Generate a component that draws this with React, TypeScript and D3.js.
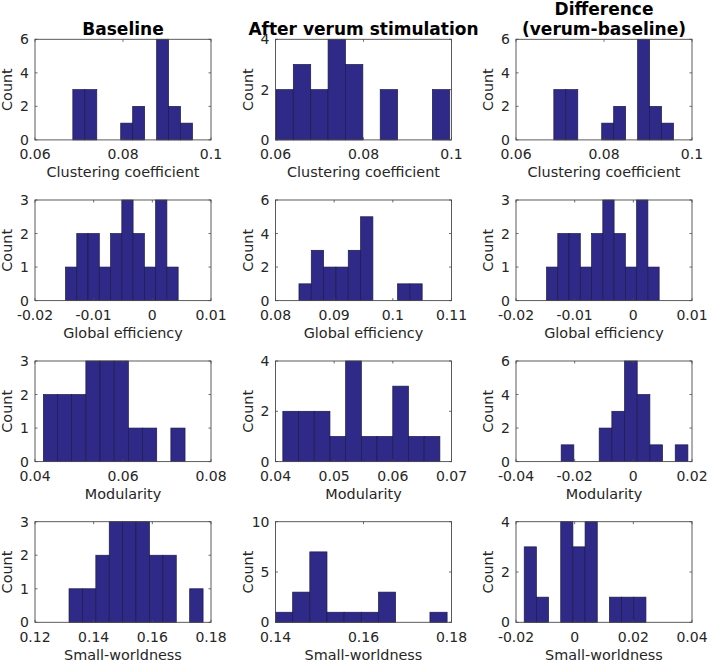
import React from 'react';
import * as d3 from 'd3';

// column titles and row x-labels
const colTitles = [['Baseline'], ['After verum stimulation'], ['Difference', '(verum-baseline)']];
const rowLabels = ['Clustering coefficient', 'Global efficiency', 'Modularity', 'Small-worldness'];

// histogram data: [binLo, binHi] range of the 10 equal bins, and counts per bin
const ccBaseRange = [0.0686, 0.0958];
const ccBaseCounts = [3, 3, 0, 0, 1, 2, 0, 6, 2, 1];
const ccVerumRange = [0.0601, 0.0996];
const ccVerumCounts = [2, 3, 2, 4, 3, 0, 2, 0, 0, 2];
const ccDiffRange = [0.0686, 0.0958];
const ccDiffCounts = [3, 3, 0, 0, 1, 2, 0, 6, 2, 1];

const geBaseRange = [-0.0148, 0.0044];
const geBaseCounts = [1, 2, 2, 1, 2, 3, 2, 1, 3, 1];
const geVerumRange = [0.084, 0.105];
const geVerumCounts = [1, 3, 2, 2, 3, 5, 0, 0, 1, 1];
const geDiffRange = [-0.0148, 0.0044];
const geDiffCounts = [1, 2, 2, 1, 2, 3, 2, 1, 3, 1];

const modBaseRange = [0.0419, 0.0741];
const modBaseCounts = [2, 2, 2, 3, 3, 3, 1, 1, 0, 1];
const modVerumRange = [0.04125, 0.06802];
const modVerumCounts = [2, 2, 2, 1, 4, 1, 1, 3, 1, 1];
const modDiffRange = [-0.0246, 0.0186];
const modDiffCounts = [1, 0, 0, 2, 3, 6, 4, 1, 0, 1];

const swBaseRange = [0.1316, 0.1773];
const swBaseCounts = [1, 1, 2, 3, 3, 3, 2, 2, 0, 1];
const swVerumRange = [0.14, 0.179];
const swVerumCounts = [1, 3, 7, 1, 1, 1, 3, 0, 0, 1];
const swDiffRange = [-0.0172, 0.0243];
const swDiffCounts = [3, 1, 0, 4, 3, 4, 0, 1, 1, 1];

// axis limits and ticks
const ccXTicks = [0.06, 0.08, 0.1];
const geXTicksA = [-0.02, -0.01, 0, 0.01];
const geXTicksB = [0.08, 0.09, 0.1, 0.11];
const modXTicksA = [0.04, 0.06, 0.08];
const modXTicksB = [0.04, 0.05, 0.06, 0.07];
const modXTicksC = [-0.04, -0.02, 0, 0.02];
const swXTicksA = [0.12, 0.14, 0.16, 0.18];
const swXTicksB = [0.14, 0.16, 0.18];
const swXTicksC = [-0.02, 0, 0.02, 0.04];

const panels = [
  [
    { range: ccBaseRange, counts: ccBaseCounts, xTicks: ccXTicks, yTicks: [0, 2, 4, 6] },
    { range: ccVerumRange, counts: ccVerumCounts, xTicks: ccXTicks, yTicks: [0, 2, 4] },
    { range: ccDiffRange, counts: ccDiffCounts, xTicks: ccXTicks, yTicks: [0, 2, 4, 6] },
  ],
  [
    { range: geBaseRange, counts: geBaseCounts, xTicks: geXTicksA, yTicks: [0, 1, 2, 3] },
    { range: geVerumRange, counts: geVerumCounts, xTicks: geXTicksB, yTicks: [0, 2, 4, 6] },
    { range: geDiffRange, counts: geDiffCounts, xTicks: geXTicksA, yTicks: [0, 1, 2, 3] },
  ],
  [
    { range: modBaseRange, counts: modBaseCounts, xTicks: modXTicksA, yTicks: [0, 1, 2, 3] },
    { range: modVerumRange, counts: modVerumCounts, xTicks: modXTicksB, yTicks: [0, 2, 4] },
    { range: modDiffRange, counts: modDiffCounts, xTicks: modXTicksC, yTicks: [0, 2, 4, 6] },
  ],
  [
    { range: swBaseRange, counts: swBaseCounts, xTicks: swXTicksA, yTicks: [0, 1, 2, 3] },
    { range: swVerumRange, counts: swVerumCounts, xTicks: swXTicksB, yTicks: [0, 5, 10] },
    { range: swDiffRange, counts: swDiffCounts, xTicks: swXTicksC, yTicks: [0, 2, 4] },
  ],
];

const W = 709;
const H = 662;
const colLeft = [35, 275.5, 516];
const rowTop = [39.3, 200, 361, 521.7];
const axW = 176;
const axH = 100.6;
const FONT = 'DejaVu Sans, sans-serif';
const BAR = '#2f2a87';
const BAR_EDGE = '#1c1a4a';
const AXIS = '#4a4a4a';
const TEXT = '#262626';

function Hist({ x0, y0, p, label }) {
  const xs = d3.scaleLinear().domain(d3.extent(p.xTicks)).range([x0, x0 + axW]);
  const ys = d3.scaleLinear().domain(d3.extent(p.yTicks)).range([y0 + axH, y0]);
  const n = p.counts.length;
  const bw = (p.range[1] - p.range[0]) / n;
  const tl = 2.5;
  return (
    <g>
      {p.counts.map((c, i) =>
        c > 0 ? (
          <rect
            key={i}
            x={xs(p.range[0] + i * bw)}
            y={ys(c)}
            width={xs(p.range[0] + (i + 1) * bw) - xs(p.range[0] + i * bw)}
            height={ys(0) - ys(c)}
            fill={BAR}
            stroke={BAR_EDGE}
            strokeWidth={0.7}
          />
        ) : null
      )}
      <rect x={x0} y={y0} width={axW} height={axH} fill="none" stroke={AXIS} strokeWidth={0.9} />
      {p.xTicks.map((t) => (
        <g key={'x' + t}>
          <line x1={xs(t)} x2={xs(t)} y1={y0 + axH} y2={y0 + axH - tl} stroke={AXIS} strokeWidth={0.8} />
          <line x1={xs(t)} x2={xs(t)} y1={y0} y2={y0 + tl} stroke={AXIS} strokeWidth={0.8} />
          <text x={xs(t)} y={y0 + axH + 19.5} textAnchor="middle" fontSize={14} fill={TEXT}>
            {String(t)}
          </text>
        </g>
      ))}
      {p.yTicks.map((t) => (
        <g key={'y' + t}>
          <line x1={x0} x2={x0 + tl} y1={ys(t)} y2={ys(t)} stroke={AXIS} strokeWidth={0.8} />
          <line x1={x0 + axW} x2={x0 + axW - tl} y1={ys(t)} y2={ys(t)} stroke={AXIS} strokeWidth={0.8} />
          <text x={x0 - 6} y={ys(t)} dy="0.36em" textAnchor="end" fontSize={14} fill={TEXT}>
            {String(t)}
          </text>
        </g>
      ))}
      <text x={x0 + axW / 2} y={y0 + axH + 37.5} textAnchor="middle" fontSize={14.4} fill={TEXT}>
        {label}
      </text>
      <text
        transform={`translate(${x0 - 23},${y0 + axH / 2}) rotate(-90)`}
        textAnchor="middle"
        fontSize={14.4}
        fill={TEXT}
      >
        Count
      </text>
    </g>
  );
}

export default function App() {
  return (
    <div style={{ position: 'fixed', left: 0, top: 0, background: '#fff' }}>
      <svg width={W} height={H} fontFamily={FONT} style={{ display: 'block' }}>
        <rect width={W} height={H} fill="#fff" />
        {colTitles.map((lines, c) =>
          lines.map((line, k) => (
            <text
              key={c + '-' + k}
              x={colLeft[c] + axW / 2}
              y={35 - (lines.length - 1 - k) * 20}
              textAnchor="middle"
              fontSize={17}
              fontWeight="bold"
              fill="#000"
            >
              {line}
            </text>
          ))
        )}
        {panels.map((row, r) =>
          row.map((p, c) => (
            <Hist key={r + '-' + c} x0={colLeft[c]} y0={rowTop[r]} p={p} label={rowLabels[r]} />
          ))
        )}
      </svg>
    </div>
  );
}
